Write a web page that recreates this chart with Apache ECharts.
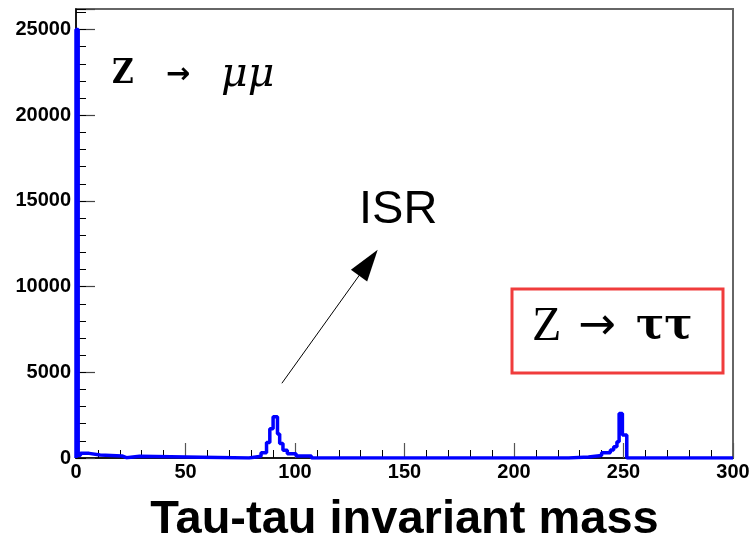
<!DOCTYPE html>
<html>
<head>
<meta charset="utf-8">
<script src="https://cdn.jsdelivr.net/npm/echarts@6/dist/echarts.min.js"></script>
<style>
html,body{margin:0;padding:0;background:#fff;}
#c{width:752px;height:545px;}
</style>
</head>
<body>
<div id="c"></div>
<script>
// Histogram bin edges (x) and contents per bin
const binEdges = [0, 1, 2, 6, 11, 21, 23, 29, 79, 84.5, 87, 88.5, 90, 92, 93, 94.5, 96.5, 100.5, 107.5, 225, 234, 240, 244, 245.5, 247, 248, 249.5, 251.5, 300];
const binCounts = [25000, 150, 270, 170, 120, 20, 100, 0, 100, 300, 900, 1700, 2400, 1400, 850, 450, 250, 120, 0, 60, 150, 300, 470, 650, 950, 2600, 1340, 0];
const xTicks = [0, 50, 100, 150, 200, 250, 300];
const yTicks = [0, 5000, 10000, 15000, 20000, 25000];
const xTitle = 'Tau-tau invariant mass';
const arrowFrom = [94, 4360];
const arrowTo = [133.5, 11400];

const histData = [[binEdges[0], 0]];
for (let i = 0; i < binCounts.length; i++) histData.push([binEdges[i], binCounts[i]]);
histData.push([binEdges[binEdges.length - 1], binCounts[binCounts.length - 1]]);

const chart = echarts.init(document.getElementById('c'), null, {renderer: 'canvas'});
const labelFont = {fontFamily: 'Liberation Sans', fontWeight: 'bold', fontSize: 20, color: '#000'};
chart.setOption({
  animation: false,
  backgroundColor: '#fff',
  grid: {left: 76, right: 19, top: 9, bottom: 87, containLabel: false, outerBoundsMode: 'none', show: true, borderColor: '#666', borderWidth: 2, backgroundColor: 'transparent'},
  xAxis: {
    type: 'value', min: xTicks[0], max: xTicks[xTicks.length - 1], interval: 50,
    axisLine: {show: true, onZero: false, lineStyle: {color: '#000', width: 1.5}},
    axisTick: {show: true, inside: true, length: 15, lineStyle: {color: '#555', width: 1.2}},
    minorTick: {show: true, splitNumber: 5, length: 8, lineStyle: {color: '#000', width: 1}},
    splitLine: {show: false},
    axisLabel: Object.assign({margin: 4}, labelFont),
    name: xTitle, nameLocation: 'middle', nameGap: 39,
    nameTextStyle: {fontFamily: 'Liberation Sans', fontWeight: 'bold', fontSize: 47, color: '#000'}
  },
  yAxis: [{
    type: 'value', min: yTicks[0], max: 26200, interval: 5000,
    axisLine: {show: true, lineStyle: {color: '#000', width: 1.5}},
    axisTick: {show: true, inside: true, length: 19, lineStyle: {color: '#444', width: 1.2}},
    splitLine: {show: false},
    axisLabel: Object.assign({margin: 5, formatter: v => (yTicks.indexOf(v) >= 0 ? String(v) : '')}, labelFont)
  }, {
    type: 'value', min: 0, max: 26200, interval: 1000, position: 'left',
    axisLine: {show: false},
    axisTick: {show: true, inside: true, length: 10, lineStyle: {color: '#000', width: 1}},
    splitLine: {show: false},
    axisLabel: {show: false}
  }],
  series: [{
    type: 'line', step: 'end', data: histData, showSymbol: false, symbol: 'none',
    lineStyle: {color: '#0000ff', width: 3.5}, silent: true, z: 5,
    markLine: {
      silent: true, animation: false,
      symbol: ['none', 'triangle'],
      lineStyle: {color: '#000', width: 1, type: 'solid'},
      label: {show: false},
      emphasis: {disabled: true},
      data: [[{coord: arrowFrom, symbol: 'none'}, {coord: arrowTo, symbol: 'triangle', symbolSize: [20, 32], itemStyle: {color: '#000'}}]]
    }
  }],
  graphic: [
    {type: 'text', left: 112, top: 58, style: {text: 'Z', font: 'bold 33px "DejaVu Serif Condensed", "DejaVu Serif"', fill: '#000'}},
    {type: 'text', left: 166, top: 61, style: {text: '→', font: 'bold 29px "DejaVu Sans"', fill: '#000'}},
    {type: 'text', left: 221, top: 55, style: {text: 'μμ', font: 'italic 41px "DejaVu Serif"', fill: '#000'}},
    {type: 'text', left: 359, top: 187, style: {text: 'ISR', font: '47px "Liberation Sans"', fill: '#000'}},
    {type: 'rect', shape: {x: 512, y: 289, width: 211, height: 84}, style: {fill: 'none', stroke: '#f03c3c', lineWidth: 3}},
    {type: 'text', left: 532, top: 303, style: {text: 'Z', font: '48px "Liberation Serif"', fill: '#000'}},
    {type: 'text', left: 578, top: 305, style: {text: '→', font: '45px "DejaVu Sans"', fill: '#000'}},
    {type: 'text', left: 636, top: 306, style: {text: 'ττ', font: 'bold 42px "DejaVu Serif"', fill: '#000'}}
  ]
});
</script>
</body>
</html>
